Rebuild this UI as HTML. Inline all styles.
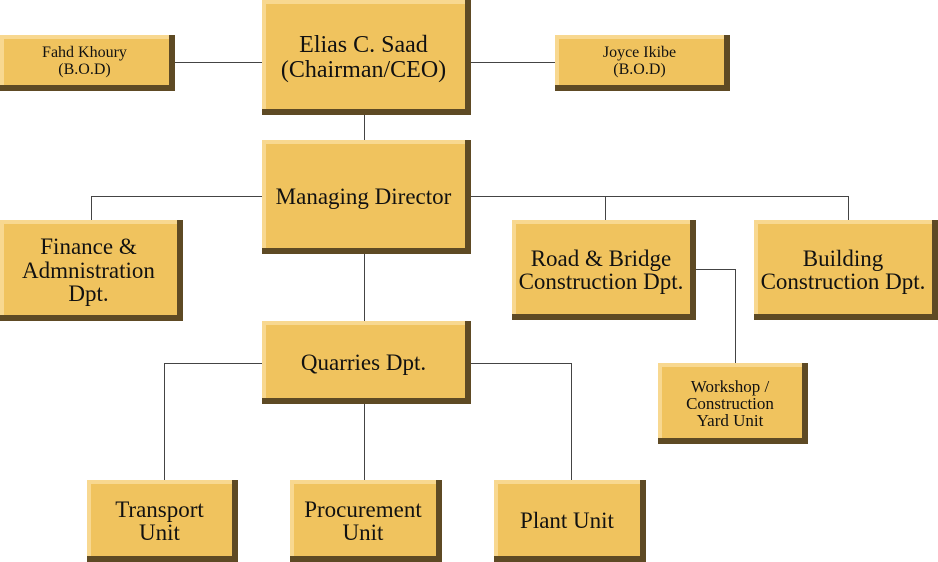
<!DOCTYPE html>
<html><head><style>
body{margin:0;width:938px;height:562px;background:#fff;position:relative;overflow:hidden;font-family:"Liberation Serif",serif;}
.b{position:absolute;box-sizing:border-box;background:#f0c35e;border-right:6px solid #5e4a24;border-bottom:6px solid #5e4a24;box-shadow:inset 4px 4px 0 #f8d890;display:flex;align-items:center;justify-content:center;text-align:center;color:#111;line-height:1.02;padding-top:6px;}
.l{position:absolute;background:#444;}
</style></head><body>
<div class="l" style="left:175px;top:62px;width:90px;height:1px"></div>
<div class="l" style="left:468px;top:62px;width:90px;height:1px"></div>
<div class="l" style="left:364px;top:113px;width:1px;height:30px"></div>
<div class="l" style="left:364px;top:252px;width:1px;height:72px"></div>
<div class="l" style="left:364px;top:402px;width:1px;height:80px"></div>
<div class="l" style="left:91px;top:196px;width:757px;height:1px"></div>
<div class="l" style="left:91px;top:196px;width:1px;height:26px"></div>
<div class="l" style="left:605px;top:196px;width:1px;height:26px"></div>
<div class="l" style="left:848px;top:196px;width:1px;height:26px"></div>
<div class="l" style="left:164px;top:363px;width:407px;height:1px"></div>
<div class="l" style="left:164px;top:363px;width:1px;height:119px"></div>
<div class="l" style="left:571px;top:363px;width:1px;height:119px"></div>
<div class="l" style="left:694px;top:269px;width:41px;height:1px"></div>
<div class="l" style="left:735px;top:269px;width:1px;height:96px"></div>

<div class="b" style="left:262px;top:0;width:209px;height:115px;font-size:24px">Elias C. Saad<br>(Chairman/CEO)</div>
<div class="b" style="left:0;top:35px;width:175px;height:56px;font-size:16px;padding-top:3px">Fahd Khoury<br>(B.O.D)</div>
<div class="b" style="left:555px;top:35px;width:175px;height:56px;font-size:16px;padding-top:3px">Joyce Ikibe<br>(B.O.D)</div>
<div class="b" style="left:262px;top:140px;width:209px;height:114px;font-size:23px">Managing Director</div>
<div class="b" style="left:0;top:220px;width:183px;height:101px;font-size:23px">Finance &amp;<br>Admnistration<br>Dpt.</div>
<div class="b" style="left:512px;top:220px;width:184px;height:100px;font-size:23px">Road &amp; Bridge<br>Construction Dpt.</div>
<div class="b" style="left:754px;top:220px;width:184px;height:100px;font-size:23px">Building<br>Construction Dpt.</div>
<div class="b" style="left:262px;top:321px;width:209px;height:83px;font-size:23px">Quarries Dpt.</div>
<div class="b" style="left:658px;top:363px;width:150px;height:81px;font-size:17px">Workshop /<br>Construction<br>Yard Unit</div>
<div class="b" style="left:87px;top:480px;width:151px;height:82px;font-size:23px">Transport<br>Unit</div>
<div class="b" style="left:290px;top:480px;width:152px;height:82px;font-size:23px">Procurement<br>Unit</div>
<div class="b" style="left:494px;top:480px;width:152px;height:82px;font-size:23px">Plant Unit</div>
</body></html>
